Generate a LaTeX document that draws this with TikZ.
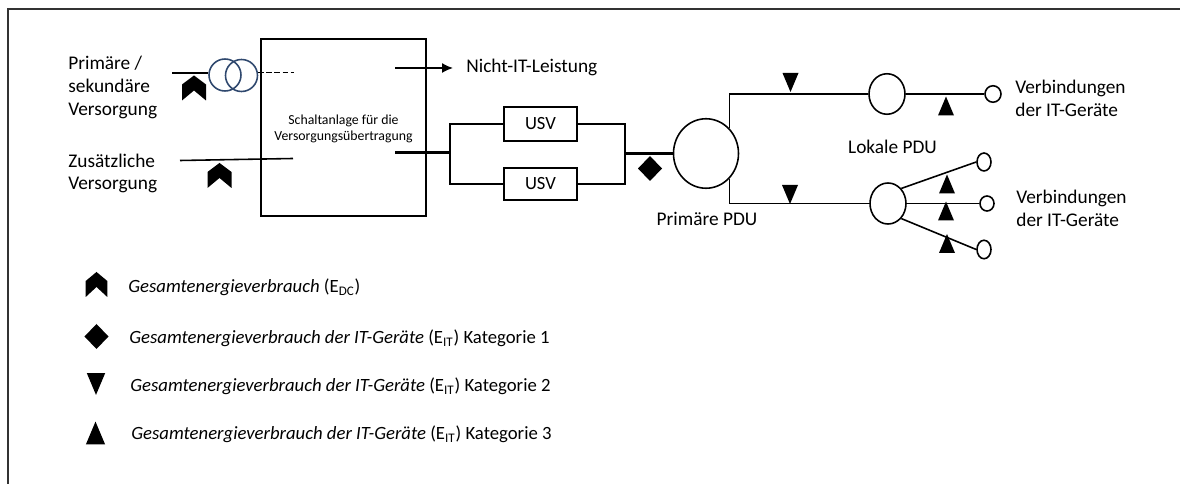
\documentclass[tikz,border=0pt]{standalone}
\usepackage{fontspec}
\setmainfont{Carlito}
\usetikzlibrary{arrows.meta,shapes.geometric}
\definecolor{trafoblue}{RGB}{47,72,110}

\begin{document}
\begin{tikzpicture}[
            line/.style={line width=0.9pt},
            heavy/.style={line width=1.4pt},
            box/.style={draw, rectangle, line width=1pt, inner sep=0pt, align=center},
            pdu/.style={draw, ellipse, line width=0.9pt, inner sep=0pt},
            trafo/.style={draw=trafoblue, circle, line width=0.9pt, inner sep=0pt, minimum size=0.64cm},
            caption/.style={font=\fontsize{11}{13}\selectfont, align=left, anchor=west, inner sep=0pt},
            legtext/.style={font=\fontsize{10.65}{12}\selectfont, anchor=west, inner sep=0pt},
            pics/chevron/.style={code={\fill (0,0.25) -- (0.24,0.07) -- (0.24,-0.25) -- (0,-0.05) -- (-0.24,-0.25) -- (-0.24,0.07) -- cycle;}},
            pics/gem/.style={code={\fill (0,0.25) -- (0.24,0) -- (0,-0.25) -- (-0.24,0) -- cycle;}},
            pics/updart/.style={code={\fill (0,0.19) -- (0.16,-0.19) -- (-0.16,-0.19) -- cycle;}},
            pics/downdart/.style={code={\fill (0,-0.19) -- (0.16,0.19) -- (-0.16,0.19) -- cycle;}}]

            \useasboundingbox (0,0) rectangle (23.6,-9.68);

            % Rahmen
            \coordinate (fa) at (0.16,-9.68);
            \coordinate (fb) at (0.16,-0.18);
            \coordinate (fc) at (23.6,-0.18);
            \draw[line width=1pt, black!80] (fa) -- (fb) -- (fc);

            % Schaltanlage und Versorgung
            \node[box, minimum width=3.3cm, minimum height=3.54cm] (schalt) at (6.87,-2.55) {};
            \node[align=center, inner sep=0pt, font=\fontsize{7.85}{9.2}\selectfont] (tschalt) at (6.87,-2.58) {Schaltanlage für die\\Versorgungsübertragung};
            \node[trafo] (tra) at (4.5,-1.5) {};
            \node[trafo] (trb) at (4.83,-1.51) {};
            \coordinate (prim) at (3.44,-1.46);
            \coordinate (dash) at (5.88,-1.45);
            \coordinate (zusa) at (3.6,-3.21);
            \coordinate (zusb) at (5.86,-3.17);
            \coordinate (nita) at (7.9,-1.36);
            \coordinate (nitb) at (9.06,-1.36);
            \coordinate (swout) at (7.9,-3.05);
            \coordinate (busl) at (9,-3.05);
            \coordinate (busr) at (12.5,-3.07);

            % USV
            \node[box, minimum width=1.46cm, minimum height=0.67cm, font=\fontsize{10.6}{12}\selectfont] (usva) at (10.81,-2.48) {USV};
            \node[box, minimum width=1.46cm, minimum height=0.65cm, font=\fontsize{10.6}{12}\selectfont] (usvb) at (10.81,-3.68) {USV};

            % PDU
            \node[pdu, minimum width=1.3cm, minimum height=1.39cm] (ppdu) at (14.12,-3.07) {};
            \node[pdu, minimum width=0.72cm, minimum height=0.81cm] (lpdua) at (17.74,-1.88) {};
            \node[pdu, minimum width=0.72cm, minimum height=0.82cm] (lpdub) at (17.76,-4.07) {};

            % Geraete
            \node[pdu, minimum width=0.32cm, minimum height=0.33cm] (itg) at (19.86,-1.88) {};
            \node[pdu, minimum width=0.28cm, minimum height=0.36cm] (ita) at (19.68,-3.24) {};
            \node[pdu, minimum width=0.28cm, minimum height=0.30cm] (itb) at (19.74,-4.07) {};
            \node[pdu, minimum width=0.28cm, minimum height=0.37cm] (itc) at (19.68,-4.99) {};

            % Verbindungen
            \draw[line] (prim) -- (prim -| tra.west);
            \draw[line, dash pattern=on 3pt off 1.6pt] (dash -| trb.east) -- (dash);
            \draw[line] (zusa) -- (zusb);
            \draw[line, -{Latex[length=2.2mm,width=2mm]}] (nita) -- (nitb);
            \draw[heavy] (swout) -- (busl);
            \draw[line] (busl) |- (usva.west);
            \draw[line] (busl) |- (usvb.west);
            \draw[line] (usva.east) -| (busr);
            \draw[line] (usvb.east) -| (busr);
            \draw[heavy] (busr) -- (ppdu.west);
            \draw[line] (ppdu.north east) |- (lpdua.west);
            \draw[line] (ppdu.south east) |- (lpdub.west);
            \draw[line] (lpdua.east) -- (itg.west);
            \draw[line] (lpdub.north east) -- (ita.west);
            \draw[line] (lpdub.east) -- (itb.west);
            \draw[line] (lpdub.south east) -- (itc.west);

            % Marken
            \pic at (3.88,-1.76) {chevron};
            \pic at (4.39,-3.51) {chevron};
            \pic at (13,-3.37) {gem};
            \pic at (15.81,-1.65) {downdart};
            \pic at (15.8,-3.89) {downdart};
            \pic at (18.92,-2.12) {updart};
            \pic at (18.94,-3.68) {updart};
            \pic at (18.92,-4.22) {updart};
            \pic at (18.94,-4.87) {updart};

            % Beschriftung
            \node[caption] (lprim) at (1.36,-1.75) {Primäre /\\sekundäre\\Versorgung};
            \node[caption] (lzus) at (1.36,-3.47) {Zusätzliche\\Versorgung};
            \node[caption] (lnit) at (9.32,-1.34) {Nicht-IT-Leistung};
            \node[caption] (lita) at (20.3,-1.97) {Verbindungen\\der IT-Geräte};
            \node[caption] (litb) at (20.32,-4.17) {Verbindungen\\der IT-Geräte};
            \node[caption, anchor=center] (lppdu) at (14.14,-4.38) {Primäre PDU};
            \node[caption, anchor=center] (llpdu) at (17.85,-2.93) {Lokale PDU};

            % Legende
            \pic[xscale=0.9] at (1.93,-5.69) {chevron};
            \pic at (1.93,-6.73) {gem};
            \pic[scale=1.15] at (1.92,-7.68) {downdart};
            \pic[scale=1.2] at (1.91,-8.66) {updart};
            \node[legtext] (lega) at (2.56,-5.74) {\textit{Gesamtenergieverbrauch} (E\textsubscript{DC})};
            \node[legtext] (legb) at (2.58,-6.76) {\textit{Gesamtenergieverbrauch der IT-Geräte} (E\textsubscript{IT}) Kategorie 1};
            \node[legtext] (legc) at (2.6,-7.72) {\textit{Gesamtenergieverbrauch der IT-Geräte} (E\textsubscript{IT}) Kategorie 2};
            \node[legtext] (legd) at (2.62,-8.68) {\textit{Gesamtenergieverbrauch der IT-Geräte} (E\textsubscript{IT}) Kategorie 3};
        \end{tikzpicture}
\end{document}
